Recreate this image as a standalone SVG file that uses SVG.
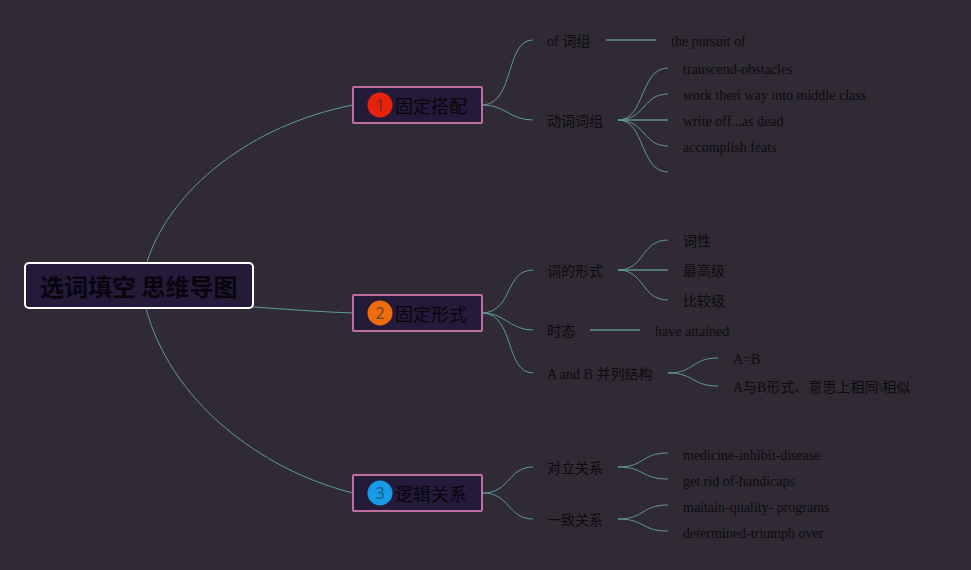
<svg xmlns="http://www.w3.org/2000/svg" width="971" height="570" viewBox="0 0 971 570">
<style>
.c{fill:none;stroke:#5f9a98;stroke-width:1}
.s{fill:none;stroke:#5f8f8e;stroke-width:1.5}
.b{fill:#241a3a;stroke:#c0709e;stroke-width:2}
.t{font-family:"Liberation Serif","Noto Sans CJK SC",serif;font-size:14px;fill:#0e0a12}
.h{font-family:"Noto Sans CJK SC","Liberation Sans",sans-serif;font-size:18px;fill:#08060c}
.n{font-family:"Noto Sans","Liberation Sans",sans-serif;font-size:16px;text-anchor:middle}
.r{font-family:"Noto Sans CJK SC","Liberation Sans",sans-serif;font-size:24px;font-weight:700;fill:#08060c}
</style>
<rect width="971" height="570" fill="#2f2a33"/>
<g id="connectors">
<path class="c" d="M147 262C170 190 250 125 353 105"/>
<path class="c" d="M253 307C285 309 320 312 353 313"/>
<path class="c" d="M146 308C170 400 260 470 353 493"/>
<path class="c" d="M483 105C515 103 505 40 533 40"/>
<path class="c" d="M483 105C505 105 510 120 533 120"/>
<path class="c" d="M483 313C513 311 505 270 533 270"/>
<path class="c" d="M483 313C505 313 510 330 533 330"/>
<path class="c" d="M483 313C515 315 505 373 533 373"/>
<path class="c" d="M483 493C510 493 508 467 533 467"/>
<path class="c" d="M483 493C510 493 508 519 533 519"/>
<path class="s" d="M606 40H656"/>
<path class="c" d="M618 120C645 120 640 68 668 68"/>
<path class="c" d="M618 120C645 120 643 94 668 94"/>
<path class="s" d="M618 120H668"/>
<path class="c" d="M618 120C645 120 643 146 668 146"/>
<path class="c" d="M618 120C645 120 640 172 668 172"/>
<path class="c" d="M618 270C645 270 641 240 668 240"/>
<path class="s" d="M618 270H668"/>
<path class="c" d="M618 270C645 270 641 300 668 300"/>
<path class="s" d="M590 330H640"/>
<path class="c" d="M668 373C695 373 691 358 718 358"/>
<path class="c" d="M668 373C695 373 691 386 718 386"/>
<path class="c" d="M618 467C645 467 641 453 668 453"/>
<path class="c" d="M618 467C645 467 641 479 668 479"/>
<path class="c" d="M618 519C645 519 641 505 668 505"/>
<path class="c" d="M618 519C645 519 641 531 668 531"/>
</g>
<g id="root"><rect x="25" y="263" width="228" height="45" rx="4" fill="#241a3a" stroke="#fff" stroke-width="2"/><text class="r" x="40" y="296">选词填空 思维导图</text></g>
<g id="n1"><rect class="b" x="353" y="87" width="129" height="36" rx="1"/><circle cx="380" cy="105" r="12.5" fill="#e8230c"/><text class="n" fill="#7a2420" x="380" y="111">1</text><text class="h" x="395" y="113">固定搭配</text></g>
<g id="n2"><rect class="b" x="353" y="295" width="129" height="36" rx="1"/><circle cx="380" cy="313" r="12.5" fill="#ee6c0e"/><text class="n" fill="#6e4420" x="380" y="319">2</text><text class="h" x="395" y="321">固定形式</text></g>
<g id="n3"><rect class="b" x="353" y="475" width="129" height="36" rx="1"/><circle cx="380" cy="493" r="12.5" fill="#169be6"/><text class="n" fill="#1c5a8c" x="380" y="499">3</text><text class="h" x="395" y="501">逻辑关系</text></g>
<g id="a1"><text class="t" x="547" y="46">of 词组</text></g>
<g id="a2"><text class="t" x="547" y="126">动词词组</text></g>
<g id="a3"><text class="t" x="671" y="46">the pursuit of</text></g>
<g id="a4"><text class="t" x="683" y="74">transcend-obstacles</text></g>
<g id="a5"><text class="t" x="683" y="100">work theri way into middle class</text></g>
<g id="a6"><text class="t" x="683" y="126">write off...as dead</text></g>
<g id="a7"><text class="t" x="683" y="152">accomplish feats</text></g>
<g id="b1"><text class="t" x="547" y="276">词的形式</text></g>
<g id="b2"><text class="t" x="547" y="336">时态</text></g>
<g id="b3"><text class="t" x="547" y="379">A and B 并列结构</text></g>
<g id="b4"><text class="t" x="683" y="246">词性</text></g>
<g id="b5"><text class="t" x="683" y="276">最高级</text></g>
<g id="b6"><text class="t" x="683" y="306">比较级</text></g>
<g id="b7"><text class="t" x="655" y="336">have attained</text></g>
<g id="b8"><text class="t" x="733" y="364">A=B</text></g>
<g id="b9"><text class="t" x="733" y="392">A与B形式、意思上相同\相似</text></g>
<g id="c1"><text class="t" x="547" y="473">对立关系</text></g>
<g id="c2"><text class="t" x="547" y="525">一致关系</text></g>
<g id="c3"><text class="t" x="683" y="460">medicine-inhibit-disease</text></g>
<g id="c4"><text class="t" x="683" y="486">get rid of-handicaps</text></g>
<g id="c5"><text class="t" x="683" y="512">maitain-quality- programs</text></g>
<g id="c6"><text class="t" x="683" y="538">determined-triumph over</text></g>
</svg>
